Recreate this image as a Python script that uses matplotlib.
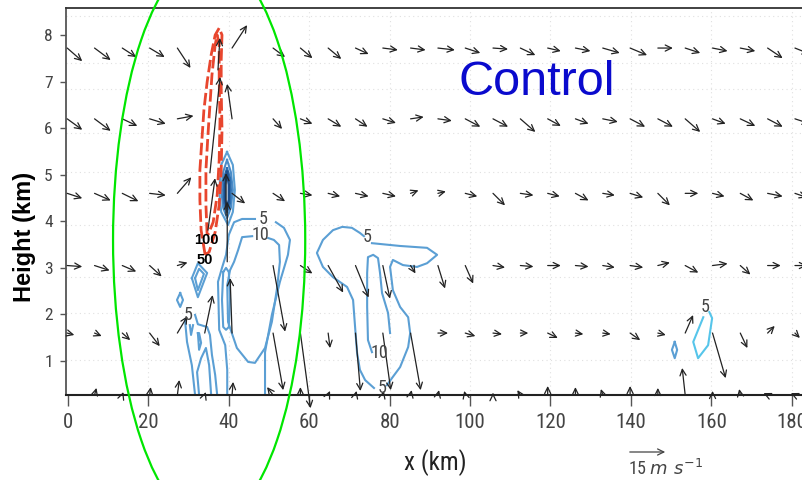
import numpy as np
import matplotlib
matplotlib.use("Agg")
import matplotlib.pyplot as plt
from matplotlib.patches import Ellipse, FancyArrowPatch
from matplotlib import font_manager

nan = np.nan
_have = {f.name for f in font_manager.fontManager.ttflist}
NARROW = [f for f in ["Liberation Sans Narrow", "DejaVu Sans Condensed", "Roboto Condensed"] if f in _have] \
         + ["Liberation Sans", "DejaVu Sans"]
BLUE = "#5b9fd4"; CYAN = "#56c5ea"; RED = "#e8462e"; GREEN = "#00e600"; INK = "#222222"

# ---- wind vectors (x of columns in km, u/w in m s-1 as drawn) ----
x_cols = [-0.2, 6.6, 13.5, 20.3, 27.2, 34.0, 40.8, 51.0, 57.8, 64.7, 71.5, 78.3, 85.2, 92.0,
          98.8, 105.7, 112.5, 119.3, 126.2, 133.0, 139.8, 146.7, 153.5, 160.3, 167.2, 174.0, 180.8]
row_heights = [7.72, 6.2, 4.6, 3.05, 1.6, 0.27]

row1_u = [5.5, 5.9, 5.1, 5.5, 4.8, nan, 5.5, 4.4, 4.4, 4.8, 4.8, 5.5, 5.5, 6.2, 5.5, 5.5, 5.5, 4.8, 5.5, 6.2, 6.2, 5.5, 5.5, 5.5, 5.5, 5.5, 5.5]
row1_w = [-4.8, -4.4, -3.3, -3.3, -7.3, nan, 8.4, -3.3, -3.7, -4.0, -2.2, -0.7, -0.7, -0.7, -1.8, -0.4, -2.6, -1.1, -1.1, -1.8, -2.6, 0, -1.8, -1.1, -1.1, -3.7, -2.2]
row2_u = [5.5, 5.9, 5.5, 5.9, 5.9, nan, -1.8, 3.3, 4.4, 4.8, 4.4, 4.8, 4.8, 5.1, 5.5, 5.5, 5.5, 4.8, 4.8, 5.5, 5.5, 5.5, 5.5, 4.8, 5.5, 5.5, 5.5]
row2_w = [-4.0, -4.4, -2.6, -1.8, 1.1, nan, 12.8, -3.7, -1.8, -2.9, -2.9, -1.5, 0.7, -0.7, -2.9, -2.9, -4.8, -2.6, -1.8, -1.1, -2.9, -2.9, -4.8, -1.8, -2.6, -2.9, -1.8]
row3_u = [5.5, 5.9, 5.9, 5.9, 5.1, nan, 4.8, 4.4, 4.4, 4.4, 4.8, 4.8, 2.9, 2.9, 4.4, 4.4, 4.8, 4.4, 4.8, 4.4, 4.8, 4.4, 4.8, 4.4, 4.8, 5.5, 4.4]
row3_w = [-1.8, -2.6, -2.9, -0.7, 5.9, nan, -3.7, -2.9, -0.7, -1.1, -1.1, -1.1, 1.1, 0.7, -1.1, -4.4, -0.7, -1.1, -2.6, -0.7, -1.5, -4.4, 0, -1.1, -2.6, -1.1, -1.5]
row4_u = [5.5, 5.5, 5.1, 4.4, 3.7, nan, nan, 4.4, 4.4, 5.5, 4.8, 2.6, 1.8, 2.6, 2.9, 4.4, 4.8, 4.8, 4.8, 4.4, 4.8, 4.4, 4.8, 5.5, 3.7, 4.8, 4.4]
row4_w = [-0.4, -1.8, -2.2, -4.0, 1.1, nan, nan, -24.2, -2.9, -9.9, -11.7, -12.1, -2.9, -8.4, -6.6, -0.7, -0.4, 0, -0.4, -0.7, -0.7, 1.1, -2.6, 0.7, -3.3, 0, 0]
row5_u = [2.6, 2.6, 2.9, 3.7, 3.7, 2.9, -0.7, 3.7, 3.7, 0.7, 1.8, 2.9, 3.7, 3.7, 3.7, 3.3, 2.9, 3.7, 2.9, 2.9, 3.7, 2.9, 2.9, 4.8, 2.6, 2.6, 1.8]
row5_w = [-0.7, -1.1, -2.6, -4.8, 6.2, 13.9, 20.1, -20.9, -27.5, -5.5, -21.2, -20.9, -20.9, 0, -1.1, -0.4, 0, -1.8, -0.4, -0.4, -2.6, -0.7, 6.6, -16.5, -5.5, 2.6, -1.8]
ground_u = [nan, 0.7, 0.4, 0.4, 0.7, 0.4, 0.4, -2.2, 0, 0.7, 0.4, 0.4, 0.4, 0.4, -0.4, 0, -1.1, 0, 0, -0.7, 0, 0, -1.1, 0, -0.4, -1.5, -1.5]
ground_w = [nan, 2.6, 1.1, 2.9, 5.5, 1.1, 4.8, 2.9, 2.9, 1.5, 1.5, 1.5, 1.8, 1.8, 1.5, 0.7, 1.8, 3.3, 2.9, 2.2, 3.3, 2.6, 9.9, 1.5, 2.2, 0.7, 0.7]

# updraft-core vectors off the regular grid
core_x = [35.3, 34.8, 37.3, 39.6, 39.3]
core_z = [5.04, 3.81, 7.25, 3.13, 4.13]
core_u = [3.7, 2.6, 0.7, 0.0, 0.0]
core_w = [35.1, 19.0, 11.7, 22.0, 15.4]

REF_SPEED = 15.0; REF_PX = 41.0

# ---- reflectivity contours (x km, z km) ----
cell1_outer_x = [49.0, 49.0, 50.7, 52.7, 54.7, 55.2, 53.7, 51.7]
cell1_outer_z = [0.27, 1.19, 1.99, 2.70, 3.28, 3.60, 3.86, 3.98]
cell1_left_x = [46.5, 43.3, 41.3, 40.0, 39.3, 38.3, 37.3, 37.6, 39.1, 39.6, 39.6]
cell1_left_z = [4.05, 4.05, 3.98, 3.71, 3.28, 3.00, 2.70, 1.67, 1.34, 0.81, 0.27]
cell1_10_x = [45.8, 43.3, 42.3, 41.3, 40.3, 39.6, 39.8, 42.0, 44.8, 46.5, 49.0, 50.7, 52.0, 52.7, 52.5, 51.2, 49.8]
cell1_10_z = [3.68, 3.66, 3.38, 3.13, 2.95, 2.63, 1.84, 1.28, 0.98, 0.96, 1.28, 1.84, 2.57, 3.13, 3.49, 3.60, 3.64]
column_x = [38.6, 38.3, 38.6, 39.3, 40.0, 40.3, 40.0, 39.3, 38.6]
column_z = [2.91, 2.31, 1.73, 1.67, 1.73, 2.31, 2.91, 3.0, 2.91]
arch_a_x = [31.6, 30.8, 29.6, 29.1]
arch_a_z = [0.27, 0.91, 1.41, 1.88]
arch_b_x = [31.6, 32.3, 34.6, 35.3, 35.8, 36.6, 37.1]
arch_b_z = [1.99, 1.79, 1.73, 1.56, 1.13, 0.70, 0.27]
arch_in_x = [32.6, 32.1, 33.1, 34.3, 35.1, 35.6]
arch_in_z = [0.27, 0.76, 1.06, 1.28, 0.91, 0.27]
vee_x = [30.3, 30.6, 31.1]
vee_z = [1.77, 1.56, 1.77]
loop_x = [32.3, 32.6, 33.1, 32.6, 32.3]
loop_z = [1.60, 1.24, 1.39, 1.60, 1.60]
dia1_x = [27.9, 28.6, 27.9, 27.1, 27.9]
dia1_z = [2.46, 2.31, 2.16, 2.31, 2.46]
rh_out_x = [30.8, 32.3, 34.6, 32.3, 30.8]
rh_out_z = [2.78, 3.10, 2.89, 2.37, 2.78]
rh_in_x = [31.6, 32.6, 33.8, 32.3, 31.6]
rh_in_z = [2.78, 2.98, 2.87, 2.52, 2.78]
ring1_x = [39.55, 41.0, 41.5, 41.0, 39.8, 38.1, 37.6, 38.1, 39.55]
ring1_z = [5.49, 5.21, 4.67, 4.20, 3.92, 4.20, 4.67, 5.21, 5.49]
ring2_x = [39.55, 40.5, 41.0, 40.5, 39.55, 38.6, 38.1, 38.6, 39.55]
ring2_z = [5.32, 5.06, 4.67, 4.29, 4.07, 4.29, 4.67, 5.06, 5.32]
ring3_x = [39.55, 40.3, 40.5, 40.3, 39.55, 38.8, 38.6, 38.8, 39.55]
ring3_z = [5.14, 4.93, 4.67, 4.39, 4.20, 4.39, 4.67, 4.93, 5.14]
ring4_x = [39.55, 40.0, 40.0, 39.55, 39.05, 39.05, 39.55]
ring4_z = [5.06, 4.78, 4.46, 4.29, 4.46, 4.78, 5.06]
cell2_a_x = [75.6, 82.6, 89.3, 91.8, 89.3, 86.8, 83.3, 80.8, 80.1, 80.8, 82.6, 84.6, 85.1, 84.6, 82.6, 80.8, 79.3]
cell2_a_z = [3.53, 3.47, 3.43, 3.28, 3.10, 3.02, 3.06, 3.17, 3.02, 2.52, 2.16, 1.94, 1.60, 1.30, 0.87, 0.66, 0.48]
cell2_b_x = [76.1, 73.9, 72.6, 71.9, 71.4, 70.9, 69.4, 65.9, 63.4, 61.9, 63.4, 65.9, 68.2, 70.6, 72.6, 73.6]
cell2_b_z = [0.42, 0.59, 0.81, 1.17, 1.73, 2.31, 2.59, 2.80, 3.02, 3.32, 3.60, 3.81, 3.88, 3.86, 3.75, 3.68]
cell2_10_x = [75.6, 74.6, 74.4, 74.4, 74.6, 75.9, 77.1, 77.6, 78.1, 79.6, 80.1]
cell2_10_z = [1.19, 1.45, 2.16, 2.89, 3.23, 3.28, 3.21, 2.89, 2.46, 2.03, 1.60]
dia2_x = [150.9, 151.5, 150.9, 150.2, 150.9]
dia2_z = [1.41, 1.24, 1.06, 1.24, 1.41]
cell3_x = [158.0, 155.5, 156.7, 159.2, 160.2, 159.5]
cell3_z = [1.94, 1.41, 1.06, 1.34, 1.92, 2.05]

# ---- red dashed contours (50 and 100) ----
red50_x = [34.1, 33.1, 32.8, 32.8, 33.3, 33.8, 34.6, 35.6, 36.6, 37.6, 38.3, 38.1, 38.1, 38.3, 38.1, 37.6, 36.6, 35.1, 34.1]
red50_z = [3.28, 3.81, 4.46, 5.10, 5.75, 6.39, 6.99, 7.57, 8.0, 8.15, 8.0, 7.46, 6.82, 5.96, 5.10, 4.35, 3.77, 3.34, 3.28]
red100_x = [34.6, 34.3, 34.3, 34.8, 35.3, 35.8, 36.6, 37.1, 37.6, 37.6, 37.8, 37.6, 37.1, 36.1, 34.8]
red100_z = [3.71, 4.35, 5.10, 5.85, 6.50, 7.14, 7.79, 8.0, 7.79, 7.03, 6.17, 5.32, 4.56, 3.98, 3.71]

# contour labels: (text, x, z)
labels_grey = [("5", 48.5, 4.05), ("10", 47.8, 3.70), ("5", 29.9, 1.99), ("5", 74.4, 3.66),
               ("10", 77.4, 1.17), ("5", 78.1, 0.42), ("5", 158.5, 2.16)]
labels_red = [("100", 34.3, 3.60), ("50", 34.1, 3.17)]

x_ticks = [0, 20, 40, 60, 80, 100, 120, 140, 160, 180]
y_ticks = [1, 2, 3, 4, 5, 6, 7, 8]
dotted_levels = [8.4, 7.4, 6.85, 5.9, 5.06, 3.92, 2.8, 2.03, 1.02]

plt.rcParams["font.family"] = ["Liberation Sans", "DejaVu Sans"]
fig = plt.figure(figsize=(8.03, 4.80), dpi=100)
ax = fig.add_axes([66/803, 85/480, 737/803, 387/480])
ax.set_xlim(-0.5, 182.8); ax.set_ylim(0.27, 8.58)

# faint dotted grid
for lev in dotted_levels:
    ax.axhline(lev, color="#e0e0e0", lw=0.8, ls=(0, (1, 3)), zorder=0)
for xt in x_ticks[1:]:
    ax.axvline(xt, color="#e0e0e0", lw=0.8, ls=(0, (1, 3)), zorder=0)

# blue contours
for cx, cz in [(cell1_outer_x, cell1_outer_z), (cell1_left_x, cell1_left_z), (cell1_10_x, cell1_10_z),
               (column_x, column_z), (arch_a_x, arch_a_z), (arch_b_x, arch_b_z), (arch_in_x, arch_in_z),
               (vee_x, vee_z), (loop_x, loop_z), (dia1_x, dia1_z), (rh_out_x, rh_out_z), (rh_in_x, rh_in_z),
               (ring1_x, ring1_z), (cell2_a_x, cell2_a_z), (cell2_b_x, cell2_b_z), (cell2_10_x, cell2_10_z),
               (dia2_x, dia2_z)]:
    ax.plot(cx, cz, color=BLUE, lw=1.5, zorder=2)
ax.plot(ring2_x, ring2_z, color="#4a8cc8", lw=1.5, zorder=2)
ax.plot(ring3_x, ring3_z, color="#2f6fb0", lw=1.6, zorder=2)
ax.plot(ring4_x, ring4_z, color="#1d4f8c", lw=1.8, zorder=2)
ax.plot(cell3_x, cell3_z, color=CYAN, lw=1.5, zorder=2)

# red dashed
for cx, cz in [(red50_x, red50_z), (red100_x, red100_z)]:
    ax.plot(cx, cz, color=RED, lw=2.0, dashes=(4.5, 1.5), zorder=3)

for t, x, z in labels_grey:
    ax.text(x, z, t, fontsize=13, color="#444", ha="center", va="center", family=NARROW, zorder=5)
for t, x, z in labels_red:
    ax.text(x, z, t, fontsize=10.5, color="black", weight="bold", ha="center", va="center", zorder=5)

# wind vectors: tail at grid point, head offset in points (15 m/s = 41 px)
k = REF_PX / REF_SPEED * 72.0 / fig.dpi
def vec(x, z, u, w):
    if np.isnan(u) or np.isnan(w):
        return
    ax.annotate("", xy=(x, z), xytext=(u*k, w*k), textcoords="offset points",
                arrowprops=dict(arrowstyle="<-,head_length=0.45,head_width=0.22", lw=0.9,
                                color=INK, shrinkA=0, shrinkB=0, mutation_scale=10),
                annotation_clip=False, zorder=4)

rows_u = [row1_u, row2_u, row3_u, row4_u, row5_u, ground_u]
rows_w = [row1_w, row2_w, row3_w, row4_w, row5_w, ground_w]
for zr, uu, ww in zip(row_heights, rows_u, rows_w):
    for x, u, w in zip(x_cols, uu, ww):
        vec(x, zr, u, w)
for x, z, u, w in zip(core_x, core_z, core_u, core_w):
    vec(x, z, u, w)

# green ellipse marking the storm
ax.add_patch(Ellipse((35.1, 3.6), 47.8, 12.15, fill=False, edgecolor=GREEN, lw=1.6,
                     clip_on=False, zorder=6))

ax.text(116.7, 6.99, "Control", fontsize=35, color="#0a0acd", ha="center", va="center")

# axes styling
ax.spines["right"].set_visible(False)
ax.spines["top"].set_color("#333"); ax.spines["top"].set_linewidth(1.3)
ax.spines["left"].set_color("#555"); ax.spines["left"].set_linewidth(1.3)
ax.spines["bottom"].set_color(INK); ax.spines["bottom"].set_linewidth(1.5)
ax.set_xticks(x_ticks); ax.set_yticks(y_ticks)
ax.tick_params(axis="x", direction="out", length=8, width=1, colors="#555", labelsize=15, pad=5)
ax.tick_params(axis="y", direction="out", length=4.5, width=1, colors="#555", labelsize=12.5, pad=5)
for lab in ax.get_xticklabels() + ax.get_yticklabels():
    lab.set_family(NARROW); lab.set_color("#444")

fig.text(25/803, 1-237/480, "Height (km)", rotation=90, fontsize=17, weight="bold",
         ha="center", va="center", color="black")
fig.text(435/803, 1-463/480, "x (km)", fontsize=18, family=NARROW, ha="center", va="center", color=INK)

# reference vector
fig.add_artist(FancyArrowPatch((627/803, 28/480), (668/803, 28/480), transform=fig.transFigure,
                               arrowstyle="->,head_length=0.45,head_width=0.22",
                               mutation_scale=10, lw=0.9, color="#444"))
fig.text(665/803, 11/480, r"15 $m\ s^{-1}$", fontsize=13, family=NARROW, ha="center", va="center", color="#444")

fig.savefig("out.png", dpi=100)
